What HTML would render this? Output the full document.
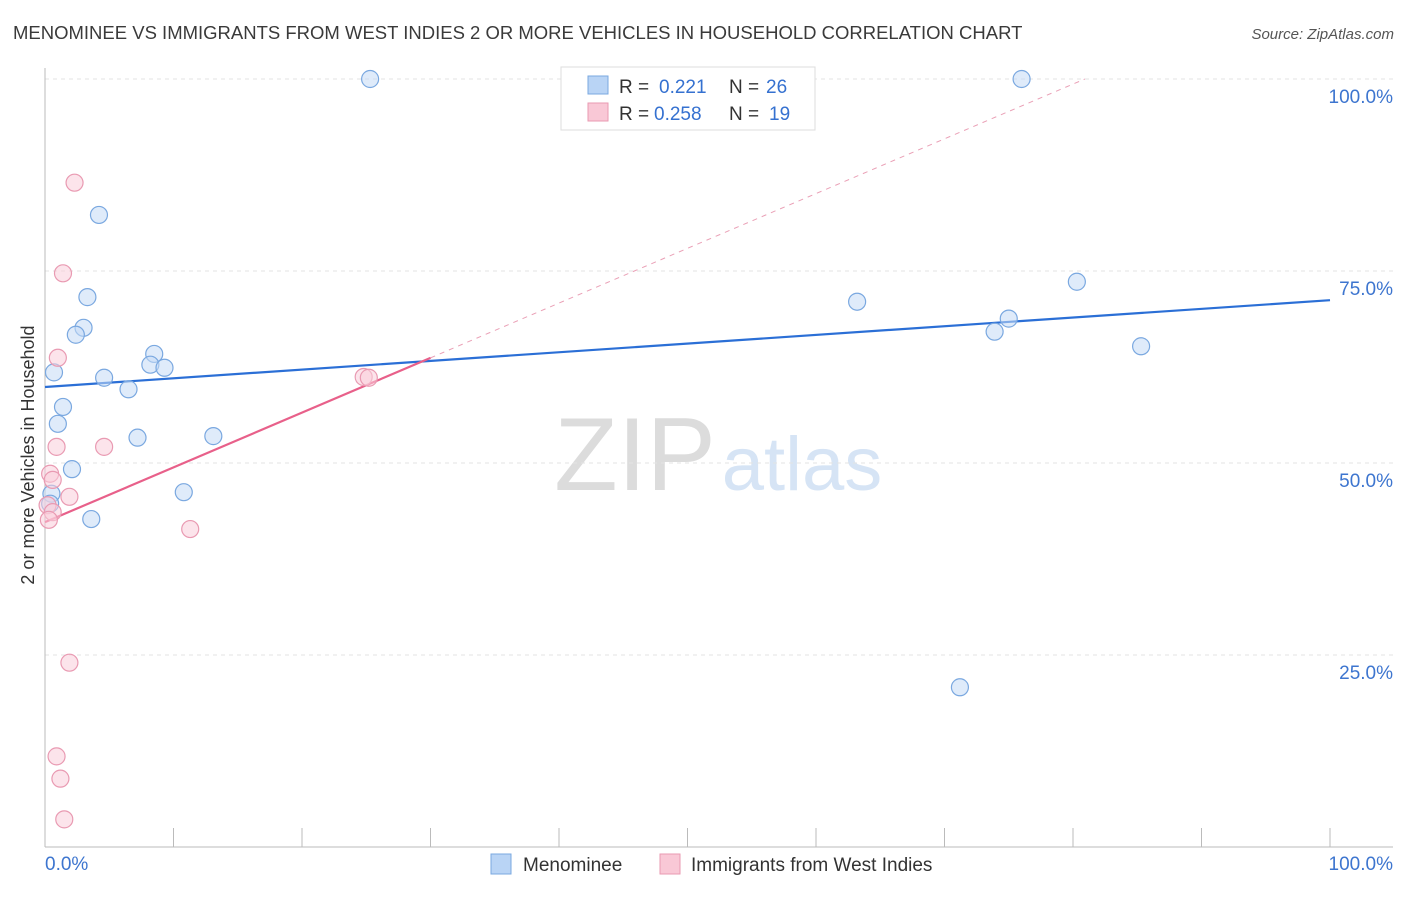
<!DOCTYPE html>
<html><head><meta charset="utf-8"><style>
body{margin:0;background:#fff;font-family:"Liberation Sans",sans-serif;}
svg text{font-family:"Liberation Sans",sans-serif;}
</style></head><body>
<svg id="chart" width="1406" height="892" xmlns="http://www.w3.org/2000/svg">
<text x="13" y="39" font-size="18.5" fill="#3a3a3a">MENOMINEE VS IMMIGRANTS FROM WEST INDIES 2 OR MORE VEHICLES IN HOUSEHOLD CORRELATION CHART</text>
<text x="1394" y="39" font-size="15" fill="#555" text-anchor="end" font-style="italic">Source: ZipAtlas.com</text>
<g>
<text x="635" y="490" font-size="104" fill="#dcdcdc" font-family="Liberation Serif" text-anchor="middle">ZIP</text>
<text x="802" y="490" font-size="76" fill="#d6e4f5" text-anchor="middle">atlas</text>
</g>
<g id="grid"></g>
<g id="axes"></g>
<text transform="translate(34,455) rotate(-90)" font-size="18" fill="#333" text-anchor="middle">2 or more Vehicles in Household</text>
<g id="lines"></g>
<g id="points"></g>
<g>
<rect x="561" y="67" width="254" height="63" fill="#fff" stroke="#ddd"/>
<rect x="588" y="76" width="20" height="18" fill="#b9d4f5" stroke="#7aa8e0"/>
<rect x="588" y="103" width="20" height="18" fill="#f9c8d6" stroke="#e99ab2"/>
<text x="619" y="93" font-size="19" fill="#333">R = </text><text x="659" y="93" font-size="19" fill="#3571d0">0.221</text>
<text x="729" y="93" font-size="19" fill="#333">N = </text><text x="766" y="93" font-size="19" fill="#3571d0">26</text>
<text x="619" y="120" font-size="19" fill="#333">R = </text><text x="654" y="120" font-size="19" fill="#3571d0">0.258</text>
<text x="729" y="120" font-size="19" fill="#333">N = </text><text x="769" y="120" font-size="19" fill="#3571d0">19</text>
</g>
<g>
<rect x="491" y="854" width="20" height="20" fill="#b9d4f5" stroke="#7aa8e0"/>
<text x="523" y="871" font-size="19" fill="#333">Menominee</text>
<rect x="660" y="854" width="20" height="20" fill="#f9c8d6" stroke="#e99ab2"/>
<text x="691" y="871" font-size="19" fill="#333">Immigrants from West Indies</text>
</g>
</svg>
<script>
const yTicks=[25,50,75,100];
const yTickLabels=["25.0%","50.0%","75.0%","100.0%"];
const xTicks=[0,10,20,30,40,50,60,70,80,90,100];
const blueX=[25.3,76.0,4.2,3.3,3.0,2.4,8.5,8.2,9.3,0.7,4.6,6.5,1.4,1.0,7.2,13.1,2.1,10.8,0.5,0.4,3.6,63.2,80.3,73.9,75.0,85.3,71.2];
const blueY=[100,100,82.3,71.6,67.6,66.7,64.2,62.8,62.4,61.8,61.1,59.6,57.3,55.1,53.3,53.5,49.2,46.2,46.0,44.7,42.7,71.0,73.6,67.1,68.8,65.2,20.8];
const pinkX=[2.3,1.4,1.0,24.8,25.2,0.9,4.6,0.4,0.6,1.9,0.2,0.6,0.3,11.3,1.9,0.9,1.2,1.5];
const pinkY=[86.5,74.7,63.7,61.2,61.1,52.1,52.1,48.6,47.8,45.6,44.5,43.6,42.6,41.4,24.0,11.8,8.9,3.6];
const blueTrend=[59.9,71.2];
const pinkTrend=[42.3,0.713];
const NS="http://www.w3.org/2000/svg";
const X=v=>45+v*12.85, Y=v=>847-v*7.68;
function mk(t,a,p){const e=document.createElementNS(NS,t);for(const k in a)e.setAttribute(k,a[k]);p.appendChild(e);return e;}
const grid=document.getElementById('grid'),axes=document.getElementById('axes'),lines=document.getElementById('lines'),pts=document.getElementById('points');
yTicks.forEach((t,i)=>{
 const l=mk('line',{x1:45,x2:1393,y1:Y(t),y2:Y(t),stroke:'#e3e3e3','stroke-dasharray':'4,4'},grid);
 
 
 const tx=mk('text',{x:1393,y:Y(t)+24,'font-size':19,fill:'#3d75cf','text-anchor':'end'},axes);
 tx.textContent=yTickLabels[i];
 
 
});
const ya=mk('line',{x1:45,x2:45,y1:68,y2:847,stroke:'#bbb'},axes);


const xa=mk('line',{x1:45,x2:1393,y1:847,y2:847,stroke:'#bbb'},axes);


xTicks.forEach(t=>{
 const l=mk('line',{x1:X(t),x2:X(t),y1:828,y2:847,stroke:'#bbb'},axes);
 
 
});
[[0,'0.0%','start',45],[100,'100.0%','end',1393]].forEach(a=>{
 const tx=mk('text',{x:a[3],y:870,'font-size':19,fill:'#3d75cf','text-anchor':a[2]},axes);
 tx.textContent=a[1];
 
 
});
const pe=(100-pinkTrend[0])/pinkTrend[1];
const pd=mk('line',{x1:X(30),y1:Y(pinkTrend[0]+30*pinkTrend[1]),x2:X(pe),y2:Y(100),stroke:'#eaa0b6','stroke-dasharray':'5,5'},lines);


function circ(x,y,f,s,n){
 const c=mk('circle',{cx:X(x),cy:Y(y),r:8.5,fill:f,stroke:s,'stroke-width':1.2,'fill-opacity':0.55},pts);
 
 
}
blueX.forEach((x,i)=>circ(x,blueY[i],'#c4dbf6','#7aa8e0','menominee-point'));
pinkX.forEach((x,i)=>circ(x,pinkY[i],'#f9cdda','#e99ab2','west-indies-point'));
const bt=mk('line',{x1:X(0),y1:Y(blueTrend[0]),x2:X(100),y2:Y(blueTrend[1]),stroke:'#2b6fd6','stroke-width':2.2},lines);


const pt=mk('line',{x1:X(0),y1:Y(pinkTrend[0]),x2:X(30),y2:Y(pinkTrend[0]+30*pinkTrend[1]),stroke:'#e8608a','stroke-width':2.2},lines);


</script>
</body></html>
